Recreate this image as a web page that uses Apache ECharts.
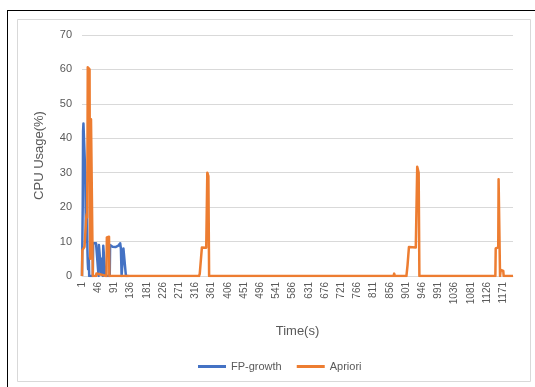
<!DOCTYPE html>
<html>
<head>
<meta charset="utf-8">
<script src="https://cdn.jsdelivr.net/npm/echarts@6/dist/echarts.min.js"></script>
<style>
html,body{margin:0;padding:0;background:#fff;}
#chart{width:535px;height:387px;}
</style>
</head>
<body>
<div id="chart"></div>
<script>
// Time axis: seconds 1..1198
var timeCount = 1198;
var labelStep = 45; // a label every 45 s: 1, 46, 91, ...
var yTicks = [0, 10, 20, 30, 40, 50, 60, 70];

// FP-growth CPU usage breakpoints [time(s), CPU %]
var fpGrowth = [
  [1,0],[2,0],[3,20],[4,42],[5,44.3],[9,44],[10,30],[12,10],[13,18],[14,25],[15,20],[16,8],[17,4],[18,2],[19,3],[20,5],[21,0],
  [31,0],[32,9.5],[33,10],[36,9.8],[40,9.5],[42,9],[45,9.2],[47,0],[48,9],[50,9],[51,5],[54,4.8],[55,0.5],[56,5],[58,5],[59,0],
  [60,8.8],[63,9],[65,9.2],[66,0],[78,0],[79,9],[82,8.8],[86,8.5],[90,8.7],[94,8.4],[98,8.6],[102,8.8],[105,9.3],[107,9.5],
  [109,8],[111,0],[115,0],[116,8],[120,8],[121,7.8],[123,0],[130,0]
];

// Apriori CPU usage breakpoints [time(s), CPU %]
var apriori = [
  [1,0],[2,7.5],[5,8],[8,8.5],[11,9],[12,8.5],[13,17.2],[14,18],[15,17],[16,30],[17,60.6],[22,60],[23,20],[24,5],[25,6],
  [26,45.5],[30,45],[31,0],[40,0],[41,0.7],[45,0.8],[50,0.5],[52,0],[69,0],[70,11.2],[71,11.6],[76,11.4],[77,0],
  [268,0],[270,0.5],[272,0],[326,0],[328,0.6],[331,0.8],[334,8.3],[346,8.2],[348,8.5],[349,30],[351,29.8],[352,29],[354,0],
  [569,0],[571,0.5],[573,0],[866,0],[868,0.7],[870,0],[902,0],[905,3],[909,8.4],[928,8.3],[930,8.5],[932,31.7],[934,31.5],
  [936,30],[937,29.5],[938,0],[1149,0],[1150,8],[1157,8.3],[1158,28.1],[1161,28],[1162,0],[1164,1.8],[1171,1.5],[1172,0],[1198,0]
];

var categories = [];
for (var t = 1; t <= timeCount; t++) categories.push(String(t));
function toIdx(arr){ return arr.map(function(p){ return [p[0]-1, p[1]]; }); }

var font = 'Liberation Sans';
var txt = '#595959';
var chart = echarts.init(document.getElementById('chart'), null, {renderer:'canvas'});
chart.setOption({
  animation: false,
  backgroundColor: '#fff',
  textStyle: {fontFamily: font},
  graphic: [
    {type:'rect', shape:{x:17.5, y:19.5, width:513, height:362}, style:{fill:'none', stroke:'#d9d9d9', lineWidth:1}, z:-1},
    {type:'line', shape:{x1:7, y1:10.5, x2:535, y2:10.5}, style:{stroke:'#000', lineWidth:1}},
    {type:'line', shape:{x1:7.5, y1:10, x2:7.5, y2:387}, style:{stroke:'#000', lineWidth:1}}
  ],
  grid: {left: 82, right: 22, top: 35, bottom: 111, containLabel: false},
  legend: {
    left: 193, top: 356,
    icon: 'rect', itemWidth: 28, itemHeight: 3, itemGap: 15,
    textStyle: {color: txt, fontSize: 11, fontFamily: font},
    data: ['FP-growth', 'Apriori']
  },
  xAxis: {
    type: 'category',
    data: categories,
    boundaryGap: false,
    name: 'Time(s)',
    nameLocation: 'middle',
    nameGap: 49,
    nameTextStyle: {color: txt, fontSize: 13, fontFamily: font},
    axisLine: {show: true, lineStyle: {color: '#d9d9d9'}},
    axisTick: {show: false},
    axisLabel: {interval: labelStep - 1, rotate: 90, color: txt, fontSize: 10, fontFamily: font, margin: 6},
    splitLine: {show: false}
  },
  yAxis: {
    type: 'value',
    min: yTicks[0], max: yTicks[yTicks.length-1], interval: 10,
    name: 'CPU Usage(%)',
    nameLocation: 'middle',
    nameGap: 36,
    nameTextStyle: {color: txt, fontSize: 13, fontFamily: font},
    axisLine: {show: false},
    axisTick: {show: false},
    axisLabel: {color: txt, fontSize: 11, fontFamily: font, margin: 10},
    splitLine: {lineStyle: {color: '#d9d9d9', width: 1}}
  },
  series: [
    {name:'FP-growth', type:'line', data: toIdx(fpGrowth), showSymbol:false, symbol:'none',
     lineStyle:{color:'#4472C4', width:2.5, join:'round'}, itemStyle:{color:'#4472C4'}},
    {name:'Apriori', type:'line', data: toIdx(apriori), showSymbol:false, symbol:'none',
     lineStyle:{color:'#ED7D31', width:2.5, join:'round'}, itemStyle:{color:'#ED7D31'}}
  ]
});
</script>
</body>
</html>
